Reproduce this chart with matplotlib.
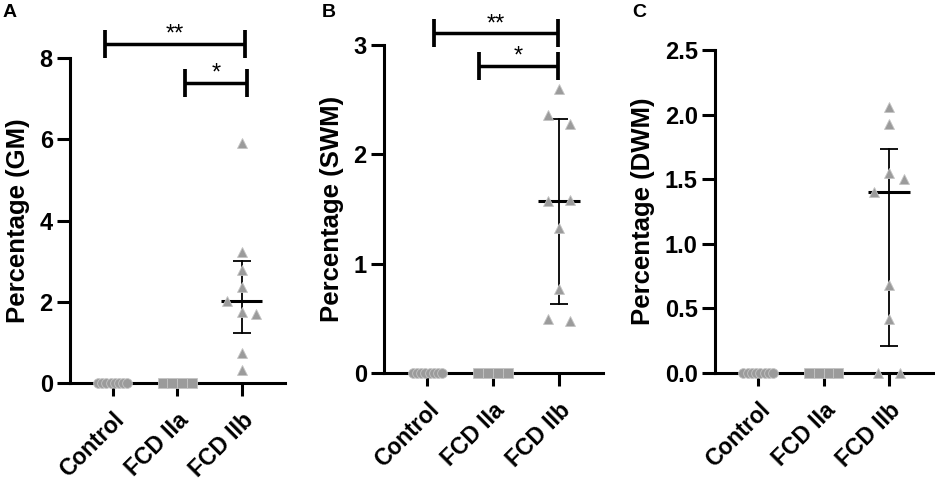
import numpy as np
import matplotlib
matplotlib.use('Agg')
import matplotlib.pyplot as plt

plt.rcParams['font.family'] = ['Liberation Sans', 'DejaVu Sans']

# groups and per-animal percentages
groups = ['Control', 'FCD IIa', 'FCD IIb']

gm_control = [0, 0, 0, 0, 0, 0, 0, 0]
gm_fcd2a = [0, 0, 0, 0]
gm_fcd2b = [5.91, 3.22, 2.78, 2.36, 2.02, 1.76, 1.71, 0.75, 0.32]

swm_control = [0, 0, 0, 0, 0, 0, 0, 0]
swm_fcd2a = [0, 0, 0, 0]
swm_fcd2b = [2.60, 2.36, 2.28, 1.57, 1.58, 1.33, 0.77, 0.49, 0.48]

dwm_control = [0, 0, 0, 0, 0, 0, 0, 0]
dwm_fcd2a = [0, 0, 0, 0]
dwm_fcd2b = [2.06, 1.93, 1.40, 1.545, 1.50, 0.68, 0.42, 0.0, 0.0]

panel_letters = ['A', 'B', 'C']
ylabels = ['Percentage (GM)', 'Percentage (SWM)', 'Percentage (DWM)']
ymax = [8, 3, 2.5]
yticks = [[0, 2, 4, 6, 8], [0, 1, 2, 3], [0.0, 0.5, 1.0, 1.5, 2.0, 2.5]]
ytick_fmt = ['{:.0f}', '{:.0f}', '{:.1f}']

# significance brackets: (x start, x end, height, label)
brackets = [
    [(-0.12, 2.05, 8.35, '**'), (1.12, 2.08, 7.39, '*')],
    [(0.10, 1.98, 3.11, '**'), (0.78, 1.98, 2.81, '*')],
    [],
]

markers = ['o', 's', '^']
face = '#9b9b9b'
edge = '#c4c4c4'

W, H = 935, 482
fig = plt.figure(figsize=(W / 100, H / 100), dpi=100)

# axes boxes in pixels: left, top, right, bottom
boxes = [(70, 58, 285, 383), (384, 45, 603, 373), (715, 50, 933, 373)]
letter_x = [3, 322, 632]


def swarm_offsets(vals, px_per_unit, thr_px=13.2, step=0.33, max_w=0.45):
    vals = np.asarray(vals, float)
    order = np.argsort(-vals, kind='stable')
    rows = []
    for i in order:
        if rows and abs(vals[rows[-1][-1]] - vals[i]) * px_per_unit < thr_px:
            rows[-1].append(i)
        else:
            rows.append([i])
    offs = np.zeros(len(vals))
    for r in rows:
        r = sorted(r)
        n = len(r)
        if n > 1:
            w = min((n - 1) * step, max_w)
            offs[r] = np.linspace(-w / 2, w / 2, n)
    return offs


data = [
    [gm_control, gm_fcd2a, gm_fcd2b],
    [swm_control, swm_fcd2a, swm_fcd2b],
    [dwm_control, dwm_fcd2a, dwm_fcd2b],
]

for p in range(3):
    l, t, r, b = boxes[p]
    ax = fig.add_axes([l / W, (H - b) / H, (r - l) / W, (b - t) / H])
    ax.set_xlim(-0.66, 2.67)
    ax.set_ylim(0, ymax[p])
    px_per_unit = (b - t) / ymax[p]

    for spn in ['top', 'right']:
        ax.spines[spn].set_visible(False)
    for spn in ['left', 'bottom']:
        ax.spines[spn].set_linewidth(2.2)

    for g in range(3):
        vals = np.array(data[p][g], float)
        offs = swarm_offsets(vals, px_per_unit)
        ax.plot(g + offs, vals, linestyle='none', marker=markers[g],
                markersize=7 if g < 2 else 7.4, markerfacecolor=face,
                markeredgecolor=edge, markeredgewidth=0.6,
                clip_on=False, zorder=4)
        med, q1, q3 = np.percentile(vals, [50, 25, 75], method='weibull')
        if q3 > 0:
            ax.plot([g - 0.32, g + 0.32], [med, med], color='black', lw=2.2,
                    solid_capstyle='butt', zorder=3)
            ax.plot([g, g], [q1, q3], color='black', lw=1.3, zorder=3)
            for q in (q1, q3):
                ax.plot([g - 0.14, g + 0.14], [q, q], color='black', lw=1.3,
                        solid_capstyle='butt', zorder=3)

    half = 14 / px_per_unit
    for x1, x2, yb, txt in brackets[p]:
        ax.plot([x1, x2], [yb, yb], color='black', lw=2.5,
                solid_capstyle='butt', clip_on=False)
        for xe in (x1, x2):
            ax.plot([xe, xe], [yb - half, yb + half], color='black', lw=2.7,
                    solid_capstyle='butt', clip_on=False)
        ax.annotate(txt, xy=((x1 + x2) / 2, yb + half), xytext=(0, -8),
                    textcoords='offset points', ha='center', va='baseline',
                    fontsize=17, annotation_clip=False)

    ax.set_xticks(range(3))
    ax.set_xticklabels(groups, rotation=45, ha='right', va='top',
                       rotation_mode='anchor', fontsize=16.5,
                       fontweight='bold')
    ax.set_yticks(yticks[p])
    ax.set_yticklabels([ytick_fmt[p].format(v) for v in yticks[p]],
                       fontsize=17, fontweight='bold')
    ax.tick_params(axis='both', length=9.4, width=2.2, pad=3)
    ax.tick_params(axis='x', pad=9)
    ax.set_ylabel(ylabels[p], fontsize=18.5, fontweight='bold', labelpad=7)

    fig.text(letter_x[p] / W, 1 - 4 / H, panel_letters[p], fontsize=14,
             fontweight='bold', ha='left', va='top')

fig.savefig('out.png', dpi=100)
